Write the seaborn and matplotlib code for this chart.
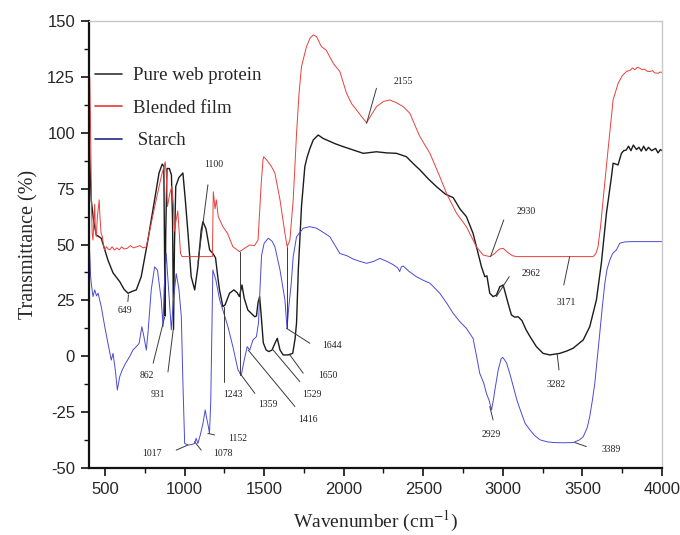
import matplotlib
matplotlib.use("Agg")
import matplotlib.pyplot as plt
import seaborn as sns
import pandas as pd
from matplotlib.lines import Line2D
from matplotlib.ticker import MultipleLocator

# ---------------- data (wavenumber, transmittance) ----------------
protein_points = [
    (400, 98), (406, 85), (414, 70), (430, 60), (446, 54.3), (477, 52.8), (519, 43), (551, 37.3),
    (593, 33.4), (620, 30), (645, 28.2), (670, 29), (697, 29.7), (728, 35.6), (770, 52), (812, 70),
    (840, 82), (860, 86), (870, 85), (874, 50), (878, 18), (882, 55), (890, 84), (905, 84),
    (918, 81), (925, 60), (931, 12), (937, 50), (945, 76), (965, 80), (990, 82), (1005, 70),
    (1022, 55), (1042, 35.6), (1064, 29.7), (1084, 40), (1105, 56.5), (1116, 60.2), (1135, 57),
    (1158, 47.6), (1178, 46), (1195, 44), (1210, 35), (1220, 29.7), (1241, 22.2), (1255, 23),
    (1283, 28.2), (1310, 29.7), (1330, 28.5), (1345, 26.7), (1361, 31.9), (1375, 26), (1398, 20.7),
    (1420, 19.2), (1441, 17.7), (1452, 18), (1462, 24), (1472, 26.7), (1480, 20), (1495, 6),
    (1513, 2.8), (1530, 2.1), (1550, 2.8), (1568, 5.8), (1583, 8), (1600, 2.8), (1620, 0.6),
    (1651, 0.6), (1680, 1.3), (1695, 8), (1704, 15), (1715, 38.6), (1735, 67), (1756, 84.8),
    (1770, 89), (1788, 93), (1809, 96.8), (1840, 99), (1870, 97.5), (1892, 96.8), (1950, 95),
    (1997, 93.8), (2060, 92.3), (2123, 90.8), (2206, 91.5), (2270, 91), (2332, 90.8), (2394, 89.3),
    (2440, 86), (2479, 83.4), (2530, 79.5), (2583, 75.9), (2640, 72.5), (2688, 71), (2730, 66),
    (2771, 62.5), (2813, 55), (2845, 46), (2866, 40), (2887, 35.6), (2900, 36), (2918, 28.2),
    (2939, 26.7), (2960, 27.4), (2981, 31.1), (3002, 31.9), (3033, 23.7), (3054, 18.5), (3075, 17.5),
    (3096, 17.7), (3120, 16), (3145, 12), (3171, 8.8), (3211, 4.3), (3253, 1.3), (3295, 0.6),
    (3358, 1.3), (3400, 2.3), (3442, 3.6), (3505, 7.3), (3546, 13.2), (3588, 25.2), (3619, 41.6),
    (3651, 64), (3682, 80), (3693, 86.4), (3724, 85.6), (3745, 90.8), (3760, 92), (3776, 92.3),
    (3790, 94), (3805, 92), (3820, 94.5), (3840, 92.5), (3855, 93.5), (3870, 91.8), (3885, 94),
    (3900, 92), (3915, 93.5), (3935, 92), (3960, 93), (3975, 91), (3990, 92.5), (4000, 92),
]

blend_points = [
    (400, 60), (404, 125), (408, 110), (412, 90), (416, 65), (420, 55), (425, 52), (430, 60),
    (436, 68), (440, 56), (446, 53.5), (452, 62), (458, 66), (464, 70), (469, 62), (476, 55),
    (484, 53.5), (490, 50), (498, 47.6), (510, 49), (520, 48), (530, 47.6), (545, 49), (560, 47.5),
    (575, 48.5), (590, 47.6), (605, 49), (620, 48), (640, 48.3), (660, 49.5), (680, 48.5),
    (700, 49), (720, 49.5), (740, 48.5), (760, 49), (791, 59.5), (822, 70), (854, 80.4), (879, 87),
    (885, 82), (893, 67), (905, 72), (920, 76), (930, 68), (937, 56), (945, 60), (958, 65),
    (966, 56), (975, 46), (985, 44.6), (1100, 44.6), (1175, 44.6), (1181, 73.6), (1186, 70),
    (1192, 66), (1200, 70), (1212, 62.5), (1241, 58), (1270, 55), (1304, 49), (1346, 46.8),
    (1378, 48.3), (1409, 49.8), (1440, 49.5), (1462, 52), (1482, 77.4), (1493, 87.8), (1498, 89.3),
    (1520, 87.5), (1547, 84.8), (1568, 81.9), (1600, 70), (1631, 55), (1645, 49), (1662, 52),
    (1683, 70), (1704, 99.8), (1720, 118), (1735, 129.6), (1766, 138.5), (1790, 142.5),
    (1809, 143.8), (1830, 143), (1850, 140), (1861, 138.5), (1890, 137), (1935, 131),
    (1976, 127.4), (2018, 117.7), (2050, 113), (2081, 110.2), (2115, 107), (2144, 104.5),
    (2170, 107.5), (2206, 111.7), (2250, 114), (2290, 114.7), (2330, 113.5), (2374, 111.7),
    (2416, 108.7), (2450, 103), (2479, 98.3), (2542, 90.8), (2604, 80.4), (2646, 72.9), (2709, 64),
    (2771, 58), (2834, 49), (2876, 45.3), (2918, 44.6), (2940, 45.5), (2960, 46.8), (2980, 48),
    (3002, 48.3), (3030, 46.5), (3060, 45), (3086, 44.6), (3300, 44.6), (3567, 44.6), (3585, 46),
    (3598, 49), (3614, 58), (3630, 70), (3661, 92.3), (3693, 114.7), (3724, 122), (3750, 125.5),
    (3776, 127.4), (3800, 128), (3815, 129), (3830, 128.2), (3845, 129.3), (3860, 128.9),
    (3875, 128.2), (3890, 128.5), (3905, 127.6), (3923, 127.4), (3940, 127.8), (3955, 126.8),
    (3975, 126.6), (3990, 127.2), (4000, 127),
]

starch_points = [
    (400, 52), (405, 45), (410, 36), (414, 32.7), (425, 26.7), (436, 29.7), (447, 27), (457, 28.2),
    (477, 22.2), (499, 13.2), (519, 5.8), (540, -1.7), (551, 1.3), (565, -6.1), (578, -15.1),
    (593, -9.1), (609, -6.1), (630, -3.1), (655, -0.2), (676, 2.8), (697, 4.3), (715, 5.8),
    (732, 13.2), (745, 8.8), (760, 2.8), (770, 10), (791, 29.7), (812, 40), (830, 38.6),
    (854, 25.2), (865, 13.2), (872, 30), (885, 46), (900, 30), (917, 11.8), (930, 25), (948, 37),
    (965, 30), (980, 17.7), (990, -12), (1001, -39), (1022, -39.7), (1045, -39.5), (1063, -39),
    (1073, -36.7), (1084, -39), (1100, -35), (1116, -30), (1130, -24), (1140, -28), (1150, -31.5),
    (1157, -34.5), (1165, -20), (1170, 2.8), (1178, 38.6), (1197, 34.1), (1221, 25.2),
    (1241, 20.7), (1273, 13.2), (1304, 4.3), (1336, -6.1), (1357, -8.4), (1375, -1.7), (1394, 4.3),
    (1410, 2.8), (1430, 7.3), (1452, 8.8), (1465, 15), (1472, 26.7), (1484, 45), (1500, 50.5),
    (1526, 52.8), (1550, 51.5), (1568, 49), (1600, 38.6), (1631, 25.2), (1644, 12.5), (1655, 22),
    (1670, 32), (1683, 44.6), (1704, 53.5), (1746, 57.3), (1788, 58), (1830, 57.3), (1870, 55.5),
    (1913, 53.5), (1976, 46), (2020, 45), (2060, 43.5), (2100, 42.5), (2144, 41.6), (2190, 42.5),
    (2227, 43.8), (2270, 42.5), (2311, 41), (2340, 39.5), (2352, 37.9), (2362, 40), (2374, 40.4),
    (2410, 38), (2457, 35.6), (2500, 34), (2542, 32.7), (2604, 28.2), (2650, 23.5), (2688, 19.2),
    (2730, 15.5), (2771, 12.5), (2813, 8), (2835, 0), (2855, -7.6), (2880, -12), (2897, -16.6),
    (2915, -20), (2929, -24), (2942, -19), (2950, -15.1), (2971, -6.1), (2990, -1), (2999, -0.5),
    (3010, -1.5), (3024, -3.1), (3045, -8), (3066, -13.6), (3090, -20), (3117, -25.5), (3140, -30),
    (3171, -33), (3200, -35.5), (3234, -37.4), (3280, -38.3), (3318, -38.6), (3380, -38.7),
    (3442, -38.6), (3480, -37.5), (3505, -36), (3530, -32), (3546, -27), (3562, -20), (3578, -12),
    (3595, 0), (3609, 10.3), (3625, 22), (3641, 32.7), (3655, 39), (3672, 43), (3690, 46),
    (3714, 47.6), (3735, 50.6), (3770, 51.2), (3818, 51.3), (3900, 51.3), (4000, 51.3),
]

series_names = ["Pure web protein", "Blended film", " Starch"]
series_colors = ["#1c1c1c", "#e8403c", "#4a4ad6"]
legend_colors = ["#333333", "#e53935", "#1f2a80"]

# peak labels: (text, x, y)
peak_labels = [
    ("649", 626, 20.7), ("862", 762, -8.4), ("931", 835, -16.9), ("1017", 794, -43.4),
    ("1078", 1243, -43.4), ("1152", 1331, -37), ("1100", 1181, 85.6), ("1243", 1306, -16.9),
    ("1359", 1526, -21.8), ("1416", 1777, -28.5), ("1529", 1798, -16.9), ("1650", 1903, -8.8),
    ("1644", 1924, 4.6), ("2155", 2374, 122.9), ("2930", 3148, 64.7), ("2962", 3180, 37.1),
    ("3171", 3396, 24), ("3282", 3333, -12.8), ("2929", 2928, -35.2), ("3389", 3682, -41.5),
]
# leader lines: (x0, y0, x1, y1)
leader_lines = [
    (648, 27.5, 644, 24.5), (803, -3.1, 875, 17.5), (896, -7, 929, 11.8), (948, -42, 1021, -39.7),
    (1105, -42, 1063, -38.2), (1147, -34.5, 1189, -35.2), (1085, 42, 1147, 76.7),
    (1248, 22, 1248, -11.4), (1348, 46.8, 1348, -8.4), (1348, -7.6, 1442, -16.6),
    (1400, 2.8, 1694, -22.5), (1557, 2.8, 1725, -11.4), (1662, 0.6, 1746, -7.6),
    (1641, 49, 1641, 12.5), (1641, 12.5, 1788, 5.8), (2144, 104.2, 2206, 119.9),
    (2923, 44.6, 3006, 61), (2960, 26.7, 3040, 35.6), (3420, 44.6, 3383, 31.9),
    (3341, 1.3, 3353, -6.1), (2918, -22.5, 2939, -28.5), (3452, -38.6, 3525, -40.4),
]

# ---------------- plotting ----------------
sns.set_theme(style="ticks")
plt.rcParams["font.family"] = ["Liberation Sans", "DejaVu Sans"]
plt.rcParams["mathtext.fontset"] = "stix"
plt.rcParams["axes.unicode_minus"] = False
serif = ["Liberation Serif", "DejaVu Serif"]

fig = plt.figure(figsize=(6.8, 5.35), dpi=100)
ax = fig.add_axes([0.1309, 0.1252, 0.8426, 0.8355])

frames = []
for name, pts in zip(series_names, [protein_points, blend_points, starch_points]):
    frames.append(pd.DataFrame({"wn": [p[0] for p in pts], "T": [p[1] for p in pts], "series": name}))
df = pd.concat(frames, ignore_index=True)

widths = {series_names[0]: 1.0, series_names[1]: 0.7, series_names[2]: 0.7}
for name, col in zip(series_names, series_colors):
    sub = df[df["series"] == name]
    sns.lineplot(data=sub, x="wn", y="T", ax=ax, color=col, lw=widths[name],
                 sort=False, estimator=None, legend=False)

for x0, y0, x1, y1 in leader_lines:
    ax.plot([x0, x1], [y0, y1], color="#3a3a3a", lw=0.7)
for txt, x, y in peak_labels:
    ax.text(x, y, txt, ha="center", va="center", fontsize=7, family=serif, color="#222222")

ax.set_xlim(400, 4000)
ax.set_ylim(-50, 150)
ax.xaxis.set_major_locator(MultipleLocator(500))
ax.xaxis.set_minor_locator(MultipleLocator(250))
ax.yaxis.set_major_locator(MultipleLocator(25))
ax.yaxis.set_minor_locator(MultipleLocator(12.5))
ax.tick_params(axis="both", which="major", direction="out", length=6, width=1.2,
               labelsize=12, pad=4, color="#111111")
ax.tick_params(axis="both", which="minor", direction="out", length=3.5, width=1.0, color="#111111")
ax.tick_params(top=False, right=False, which="both")

for s in ["left", "bottom"]:
    ax.spines[s].set_color("#111111")
    ax.spines[s].set_linewidth(1.6)
for s in ["top", "right"]:
    ax.spines[s].set_color("#c8c8c8")
    ax.spines[s].set_linewidth(1.0)

ax.set_xlabel("Wavenumber (cm$^{-1}$)", family=serif, fontsize=14, labelpad=9)
ax.set_ylabel("Transmittance (%)", family=serif, fontsize=14.5, labelpad=6)

handles = [Line2D([0], [0], color=c, lw=1.2) for c in legend_colors]
leg = ax.legend(handles, series_names, loc="upper left", bbox_to_anchor=(0.0105, 0.897),
                frameon=False, prop={"family": serif, "size": 13.5}, handlelength=1.45,
                handletextpad=0.6, labelspacing=0.82, borderpad=0, borderaxespad=0)

fig.savefig("out.png", dpi=100)
